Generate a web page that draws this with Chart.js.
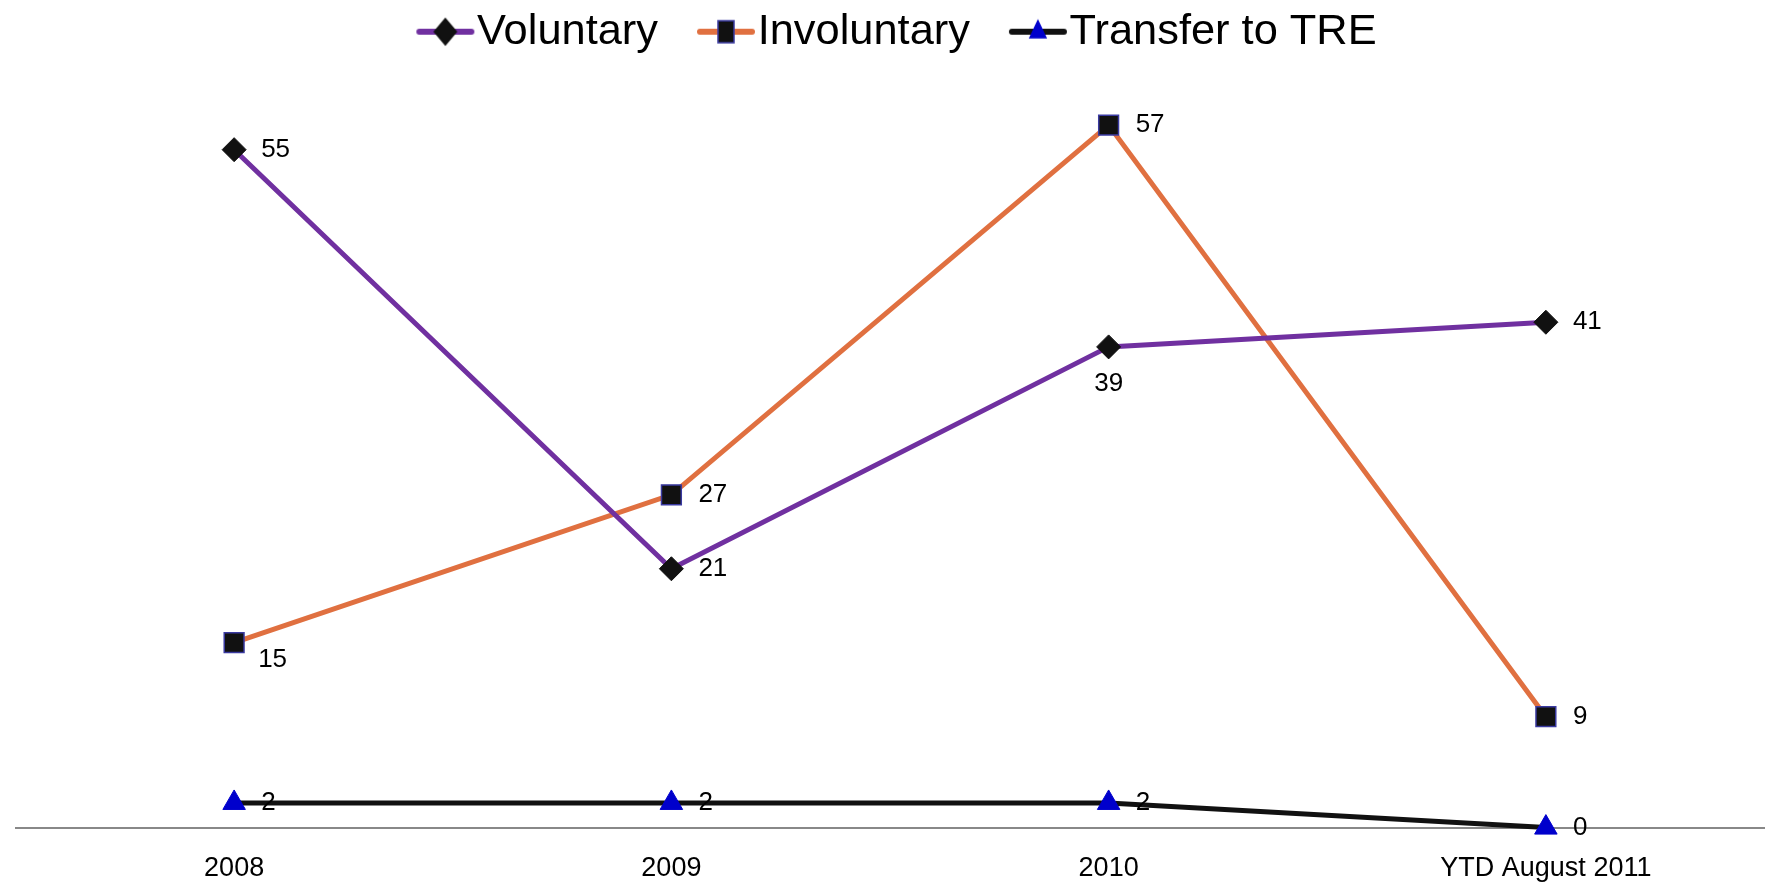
<!DOCTYPE html>
<html>
<head>
<meta charset="utf-8">
<script src="https://cdn.jsdelivr.net/npm/chart.js@4"></script>
<style>
  html, body { margin: 0; padding: 0; background: #fff; }
  #wrap { width: 1780px; height: 884px; }
</style>
</head>
<body>
<div id="wrap"><canvas id="report"></canvas></div>
<script>
const categories = ["2008", "2009", "2010", "YTD August 2011"];
const voluntary = [55, 21, 39, 41];
const involuntary = [15, 27, 57, 9];
const transferTRE = [2, 2, 2, 0];

// where each value label sits relative to its point
const labelPlace = {
    0: ["right", "right", "below", "right"],
    1: ["rightBelow", "right", "right", "right"],
    2: ["right", "right", "right", "right"]
};

const FONT = "'Liberation Sans', Arial, sans-serif";

// legend icon: line with marker; the drawing sits right of the image centre
// so it hugs the label text
function legendIcon(lineColor, style, fill, border) {
    const c = document.createElement("canvas");
    c.width = 120; c.height = 30;
    const g = c.getContext("2d");
    const x0 = 58, x1 = 110, cx = 84, cy = 15;
    g.strokeStyle = lineColor;
    g.lineWidth = 6;
    g.lineCap = "round";
    g.beginPath(); g.moveTo(x0, cy); g.lineTo(x1, cy); g.stroke();
    g.fillStyle = fill;
    g.strokeStyle = border;
    g.lineWidth = 1.5;
    g.beginPath();
    if (style === "diamond") {
        g.moveTo(cx, cy - 13); g.lineTo(cx + 11, cy); g.lineTo(cx, cy + 13); g.lineTo(cx - 11, cy); g.closePath();
    } else if (style === "square") {
        g.rect(cx - 8, cy - 11, 16, 22);
    } else {
        g.moveTo(cx, cy - 11); g.lineTo(cx + 8, cy + 6); g.lineTo(cx - 8, cy + 6); g.closePath();
    }
    g.fill(); g.stroke();
    return c;
}

const icons = [
    legendIcon("#7030A0", "diamond", "#111111", "#111111"),
    legendIcon("#E07040", "square", "#111111", "#3A3AA0"),
    legendIcon("#111111", "triangle", "#0000CC", "#0000CC")
];

// the blank left of the first icon pushes the legend right; pull it back
const legendNudge = {
    id: "legendNudge",
    afterLayout(chart) {
        if (chart.legend) {
            chart.legend.left -= 13;
            chart.legend.right -= 13;
        }
    }
};

const valueLabels = {
    id: "valueLabels",
    afterDatasetsDraw(chart) {
        const ctx = chart.ctx;
        ctx.save();
        ctx.font = "26px " + FONT;
        ctx.fillStyle = "#000";
        chart.data.datasets.forEach((ds, i) => {
            const meta = chart.getDatasetMeta(i);
            meta.data.forEach((pt, j) => {
                const place = labelPlace[i][j];
                let x = pt.x, y = pt.y;
                if (place === "below") {
                    ctx.textAlign = "center";
                    y += 37;
                } else if (place === "rightBelow") {
                    ctx.textAlign = "left";
                    x += 24; y += 17;
                } else {
                    ctx.textAlign = "left";
                    x += 27;
                }
                ctx.textBaseline = "middle";
                ctx.fillText(String(ds.data[j]), x, y);
            });
        });
        ctx.restore();
    }
};

const ctx = document.getElementById("report").getContext("2d");
new Chart(ctx, {
    type: "line",
    data: {
        labels: categories,
        datasets: [{
            label: "Voluntary",
            data: voluntary,
            borderColor: "#7030A0",
            borderWidth: 5,
            pointStyle: "rectRot",
            pointRadius: 12,
            pointBackgroundColor: "#111111",
            pointBorderColor: "#111111",
            pointBorderWidth: 1,
            clip: false
        }, {
            label: "Involuntary",
            data: involuntary,
            borderColor: "#E07040",
            borderWidth: 5,
            pointStyle: "rect",
            pointRadius: 14,
            pointBackgroundColor: "#111111",
            pointBorderColor: "#3A3AA0",
            pointBorderWidth: 1.5,
            clip: false
        }, {
            label: "Transfer to TRE",
            data: transferTRE,
            borderColor: "#111111",
            borderWidth: 5,
            pointStyle: "triangle",
            pointRadius: 13,
            pointBackgroundColor: "#0000CC",
            pointBorderColor: "#0000CC",
            pointBorderWidth: 1,
            clip: false
        }]
    },
    options: {
        responsive: true,
        maintainAspectRatio: false,
        animation: false,
        layout: { padding: { left: 13, right: 3, top: 0, bottom: -18 } },
        plugins: {
            tooltip: { enabled: false },
            legend: {
                position: "top",
                labels: {
                    font: { family: FONT, size: 43.4 },
                    color: "#000",
                    usePointStyle: true,
                    pointStyleWidth: 68,
                    padding: 10,
                    generateLabels(chart) {
                        return chart.data.datasets.map((ds, i) => ({
                            text: ds.label,
                            pointStyle: icons[i],
                            datasetIndex: i,
                            fontColor: "#000",
                            lineWidth: 0,
                            hidden: false
                        }));
                    }
                }
            }
        },
        scales: {
            x: {
                offset: true,
                grid: { display: false },
                border: { display: true, color: "#888888", width: 2 },
                ticks: {
                    font: { family: FONT, size: 27 },
                    color: "#000",
                    padding: 17,
                    maxRotation: 0
                }
            },
            y: {
                display: false,
                min: 0,
                max: 62
            }
        }
    },
    plugins: [valueLabels, legendNudge]
});
</script>
</body>
</html>
